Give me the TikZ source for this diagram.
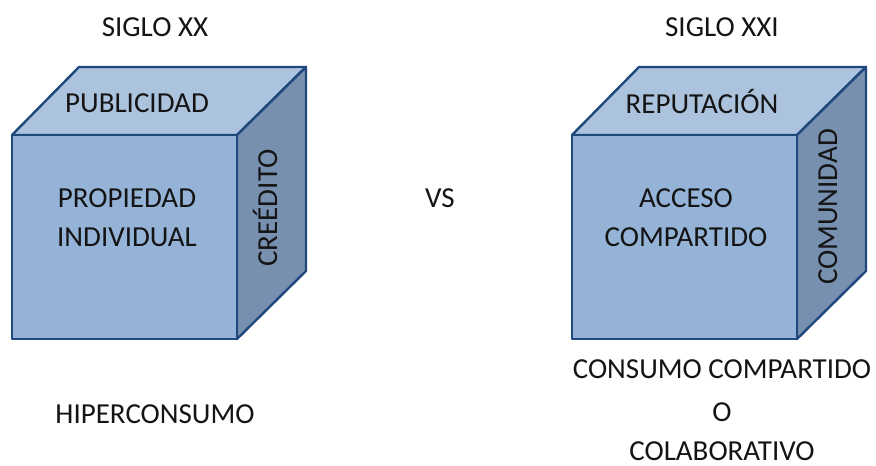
\documentclass[tikz,border=0pt]{standalone}
\usepackage{fontspec}
\setmainfont{Carlito}
\definecolor{edge}{RGB}{31,73,125}
\definecolor{frontc}{RGB}{149,179,215}
\definecolor{topc}{RGB}{172,195,222}
\definecolor{sidec}{RGB}{120,144,176}
\definecolor{txt}{RGB}{20,20,20}
\tikzset{
  face/.style={draw=edge, line width=2.4pt, line join=round},
  lbl/.style={text=txt, font=\fontsize{29}{34}\selectfont, inner sep=0pt, anchor=base},
}
\begin{document}
\begin{tikzpicture}[x=1pt,y=-1pt]
\useasboundingbox (0,0) rectangle (876,466);
% left cube
\filldraw[face, fill=topc] (12,135) -- (79,67) -- (306,67) -- (237,135) -- cycle;
\filldraw[face, fill=sidec] (237,135) -- (306,67) -- (306,271) -- (237,339) -- cycle;
\filldraw[face, fill=frontc] (12,135) rectangle (237,339);
% right cube
\filldraw[face, fill=topc] (572,135) -- (639,67) -- (866,67) -- (797,135) -- cycle;
\filldraw[face, fill=sidec] (797,135) -- (866,67) -- (866,271) -- (797,339) -- cycle;
\filldraw[face, fill=frontc] (572,135) rectangle (797,339);
% texts
\node[lbl] (s20) at (155,36) {SIGLO XX};
\node[lbl] (s21) at (722,36) {SIGLO XXI};
\node[lbl] (vs) at (440,207) {VS};
\node[lbl] (pub) at (137,112) {PUBLICIDAD};
\node[lbl] (prop1) at (127,207) {PROPIEDAD};
\node[lbl] (prop2) at (127,246) {INDIVIDUAL};
\node[lbl, rotate=90] (cred) at (277,208) {CREÉDITO};
\node[lbl] (rep) at (702,113) {REPUTACIÓN};
\node[lbl] (acc1) at (686,207) {ACCESO};
\node[lbl] (acc2) at (686,246) {COMPARTIDO};
\node[lbl, rotate=90] (com) at (837,207) {COMUNIDAD};
\node[lbl] (hip) at (155,423) {HIPERCONSUMO};
\node[lbl] (cc1) at (722,378) {CONSUMO COMPARTIDO};
\node[lbl] (cc2) at (722,421) {O};
\node[lbl] (cc3) at (722,460) {COLABORATIVO};
\end{tikzpicture}
\end{document}
